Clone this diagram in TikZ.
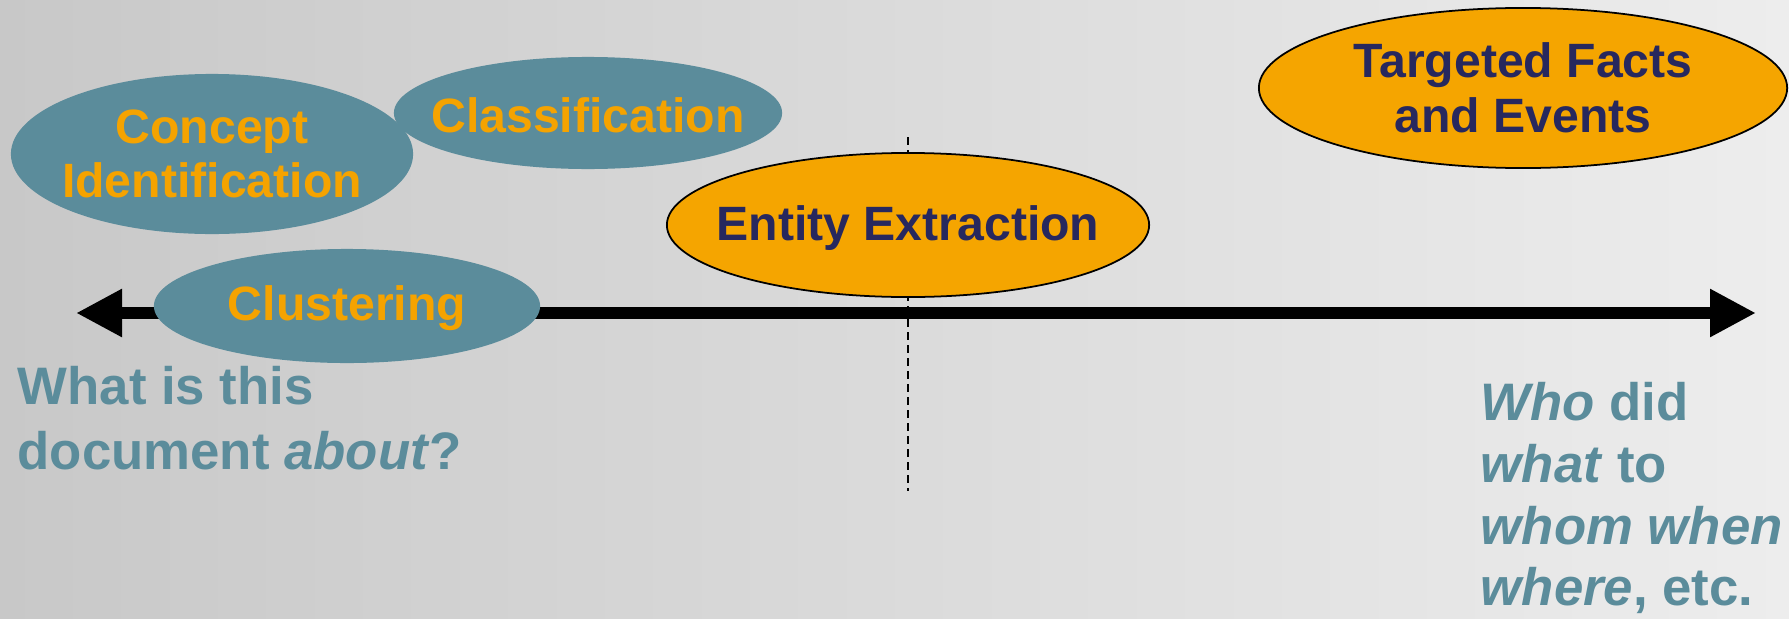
\documentclass[tikz,border=0pt]{standalone}
\usepackage{fontspec}
\setmainfont{Liberation Sans}
\usetikzlibrary{shapes.geometric,arrows.meta}
\definecolor{tealc}{HTML}{5B8C9B}
\definecolor{orangec}{HTML}{F5A500}
\definecolor{orangetxt}{HTML}{F5A300}
\definecolor{navyc}{HTML}{27285E}
\definecolor{bgleft}{HTML}{C8C8C8}
\definecolor{bgright}{HTML}{EDEDED}
\tikzset{
  tealell/.style={ellipse, fill=tealc, draw=none, inner sep=0pt},
  orangeell/.style={ellipse, fill=orangec, draw=black, line width=0.5pt, inner sep=0pt},
  elltxt/.style={inner sep=0pt, align=center, font=\fontsize{13.7pt}{15.5pt}\selectfont\bfseries},
  qtxt/.style={inner sep=0pt, align=left, text=tealc, font=\fontsize{15pt}{18.5pt}\selectfont\bfseries},
  axis/.style={line width=3.4pt, {Triangle[length=4.6mm,width=4.5mm]}-{Triangle[length=4.6mm,width=4.5mm]}},
  divider/.style={line width=0.45pt, dash pattern=on 2.3pt off 1.4pt}
}
\begin{document}
\begin{tikzpicture}[x=0.01cm,y=-0.01cm]
\shade[left color=bgleft, right color=bgright] (0,0) rectangle (1789,618);
\useasboundingbox (0,0) rectangle (1789,618);
% divider
\coordinate (dtop) at (908,137);
\coordinate (dbot) at (908,491);
\draw[divider] (dtop) -- (dbot);
% axis
\coordinate (aleft) at (76,313);
\coordinate (aright) at (1756,313);
\draw[axis] (aleft) -- (aright);
% ellipses
\node[tealell, minimum width=4.02cm, minimum height=1.60cm] (concept) at (212,154) {};
\node[tealell, minimum width=3.88cm, minimum height=1.12cm] (classif) at (588,113) {};
\node[tealell, minimum width=3.86cm, minimum height=1.14cm] (cluster) at (347,306) {};
\node[orangeell, minimum width=4.82cm, minimum height=1.44cm] (entity) at (908,225) {};
\node[orangeell, minimum width=5.28cm, minimum height=1.60cm] (facts) at (1523,88) {};
% labels
\node[elltxt, text=orangetxt] (conceptT) at (concept) {Concept\\Identification};
\node[elltxt, text=orangetxt] (classifT) at ([yshift=-0.02cm]classif.center) {Classification};
\node[elltxt, text=orangetxt] (clusterT) at ([yshift=-0.02cm]cluster.center) {Clustering};
\node[elltxt, text=navyc] (entityT) at ([yshift=-0.03cm]entity.center) {Entity Extraction};
\node[elltxt, text=navyc] (factsT) at (facts.center) {Targeted Facts\\and Events};
% questions
\node[qtxt, anchor=north west] (qleft) at (17,366) {What is this\\document \textit{about}?};
\node[qtxt, anchor=north west, font=\fontsize{15pt}{17.5pt}\selectfont\bfseries] (qright) at (1480,382) {\textit{Who} did\\\textit{what} to\\\textit{whom when}\\\textit{where}, etc.};
\end{tikzpicture}
\end{document}
